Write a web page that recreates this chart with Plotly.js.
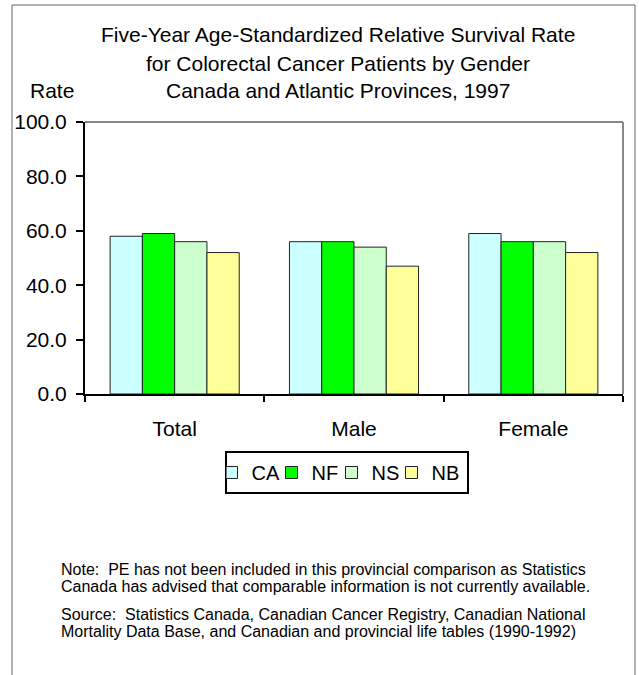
<!DOCTYPE html>
<html><head><meta charset="utf-8">
<script src="https://cdn.plot.ly/plotly-3.0.1.min.js"></script>
<style>html,body{margin:0;padding:0;background:#fff}#chart{width:639px;height:675px}</style>
</head><body><div id="chart"></div>
<script>
const categories = ["Total", "Male", "Female"];
const seriesNames = ["CA", "NF", "NS", "NB"];
const CA = [58, 56, 59];
const NF = [59, 56, 56];
const NS = [56, 54, 56];
const NB = [52, 47, 52];
const seriesValues = [CA, NF, NS, NB];
const colors = ["#CCFFFF", "#00FF00", "#CCFFCC", "#FFFF99"];
const titleLines = ["Five-Year Age-Standardized Relative Survival Rate",
  "for Colorectal Cancer Patients by Gender",
  "Canada and Atlantic Provinces, 1997"];
const noteLines = ["Note:  PE has not been included in this provincial comparison as Statistics",
  "Canada has advised that comparable information is not currently available."];
const sourceLines = ["Source:  Statistics Canada, Canadian Cancer Registry, Canadian National",
  "Mortality Data Base, and Canadian and provincial life tables (1990-1992)"];

const FONT = "Arial, 'Liberation Sans', sans-serif";
const traces = seriesNames.map((n, i) => ({
  type: "bar", name: n, x: categories, y: seriesValues[i],
  marker: {color: colors[i], line: {color: "#222", width: 1}},
  hoverinfo: "skip"
}));

// plot area: x 85..623, y 122..394
const L = 85, R = 623, T = 122, B = 394, W = 639, H = 675;
const px = x => (x - L) / (R - L);
const py = y => (B - y) / (B - T);

const ann = [];
titleLines.forEach((t, i) => ann.push({text: t, xref: "paper", yref: "paper", x: px(338), y: py([34, 63, 91][i]),
  xanchor: "center", yanchor: "middle", showarrow: false, font: {size: 21, color: "#000", family: FONT}}));
ann.push({text: "Rate", xref: "paper", yref: "paper", x: px(52), y: py(91), xanchor: "center", yanchor: "middle",
  showarrow: false, font: {size: 21, color: "#000", family: FONT}});
noteLines.concat(sourceLines).forEach((t, i) => ann.push({text: t, xref: "paper", yref: "paper", x: px(59),
  y: py([569, 586, 614, 631][i]), xanchor: "left", yanchor: "middle", showarrow: false, align: "left",
  font: {size: 16, color: "#000", family: FONT}}));

const layout = {
  width: W, height: H,
  margin: {l: L, r: W - R, t: T, b: H - B, pad: 0},
  paper_bgcolor: "#fff", plot_bgcolor: "#fff",
  font: {family: FONT, color: "#000", size: 21},
  barmode: "group", bargap: 0.28, bargroupgap: 0,
  showlegend: true,
  legend: {orientation: "h", x: px(346.5), xanchor: "center", y: py(451), yanchor: "top",
    bordercolor: "#000", borderwidth: 2, font: {size: 20, family: FONT},
    itemwidth: 30, indentation: -15, entrywidth: 30, entrywidthmode: "pixels", traceorder: "normal"},
  xaxis: {type: "category", tickson: "boundaries", ticks: "outside", ticklen: 6, tickwidth: 2, tickcolor: "#000",
    showline: true, linecolor: "#000", linewidth: 2, showgrid: false, zeroline: false,
    tickfont: {size: 21, family: FONT}, ticklabelstandoff: 15, fixedrange: true},
  yaxis: {range: [0, 100], dtick: 20, tickformat: ".1f", ticks: "outside", ticklen: 7, tickwidth: 2, tickcolor: "#000",
    showline: true, linecolor: "#000", linewidth: 2, showgrid: false, zeroline: false,
    tickfont: {size: 21, family: FONT}, ticklabelstandoff: 5, fixedrange: true},
  shapes: [
    {type: "line", xref: "paper", yref: "paper", x0: 0, x1: 1, y0: 1, y1: 1, line: {color: "#888", width: 2}, layer: "below"},
    {type: "line", xref: "paper", yref: "paper", x0: 1, x1: 1, y0: 0, y1: 1, line: {color: "#888", width: 2}, layer: "below"},
    {type: "line", xref: "paper", yref: "paper", x0: px(12), x1: px(12), y0: py(5), y1: py(700), line: {color: "#666", width: 1}},
    {type: "line", xref: "paper", yref: "paper", x0: px(12), x1: px(635), y0: py(5), y1: py(5), line: {color: "#666", width: 1}},
    {type: "line", xref: "paper", yref: "paper", x0: px(635), x1: px(635), y0: py(5), y1: py(700), line: {color: "#666", width: 1}}
  ],
  annotations: ann
};
Plotly.newPlot("chart", traces, layout, {displayModeBar: false, staticPlot: true});
</script></body></html>
